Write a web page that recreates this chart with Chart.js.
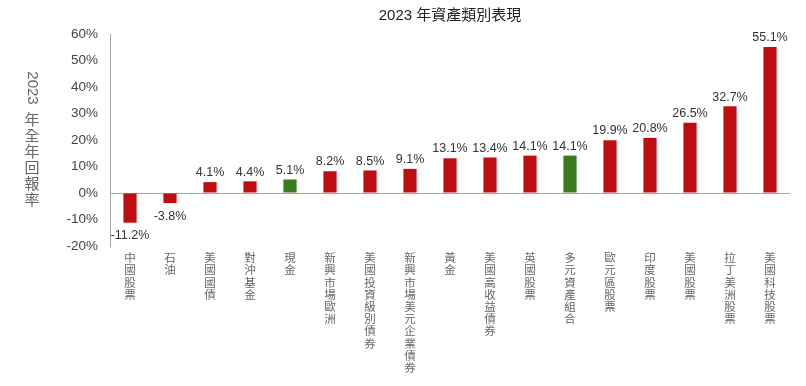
<!DOCTYPE html>
<html>
<head>
<meta charset="utf-8">
<script src="https://cdn.jsdelivr.net/npm/chart.js@4.4.0/dist/chart.umd.min.js"></script>
<style>
  html, body { margin: 0; padding: 0; background: #fff; }
  #wrap { width: 806px; height: 386px; }
</style>
</head>
<body>
<div id="wrap"><canvas id="canvas" width="806" height="386"></canvas></div>
<script>
// data
const categories = ['中國股票', '石油', '美國國債', '對沖基金', '現金', '新興市場歐洲', '美國投資級別債券',
  '新興市場美元企業債券', '黃金', '美國高收益債券', '英國股票', '多元資產組合', '歐元區股票',
  '印度股票', '美國股票', '拉丁美洲股票', '美國科技股票'];
const returns2023 = [-11.2, -3.8, 4.1, 4.4, 5.1, 8.2, 8.5, 9.1, 13.1, 13.4, 14.1, 14.1, 19.9, 20.8, 26.5, 32.7, 55.1];
const greenCats = ['現金', '多元資產組合'];
const yTicks = [-20, -10, 0, 10, 20, 30, 40, 50, 60];

const chartTitle = '2023 年資產類別表現';
const yTitleNum = '2023';
const yTitleText = '年全年回報率';

const RED = '#c00d12';
const GREEN = '#3a7b1f';
const FONT = "'Liberation Sans', 'Noto Sans CJK TC', sans-serif";

// bar value labels
const valueLabels = {
  id: 'valueLabels',
  afterDatasetsDraw(chart) {
    const ctx = chart.ctx;
    const meta = chart.getDatasetMeta(0);
    ctx.save();
    ctx.font = '12.5px ' + FONT;
    ctx.fillStyle = '#333';
    ctx.textAlign = 'center';
    meta.data.forEach((bar, i) => {
      const v = returns2023[i];
      const txt = v.toFixed(1) + '%';
      if (v >= 0) {
        ctx.textBaseline = 'bottom';
        ctx.fillText(txt, bar.x, bar.y - 3);
      } else {
        ctx.textBaseline = 'top';
        ctx.fillText(txt, bar.x, bar.y + 7);
      }
    });
    ctx.restore();
  }
};

// title centred on the plot, and vertical y-axis title
const titles = {
  id: 'titles',
  afterDraw(chart) {
    const ctx = chart.ctx;
    const area = chart.chartArea;
    ctx.save();
    ctx.fillStyle = '#222';
    ctx.font = '15px ' + FONT;
    ctx.textAlign = 'center';
    ctx.textBaseline = 'middle';
    ctx.fillText(chartTitle, (area.left + area.right) / 2, 16);

    ctx.fillStyle = '#666';
    ctx.font = '15px ' + FONT;
    const x = area.left - 78;
    const numW = ctx.measureText(yTitleNum).width;
    const step = 16;
    const total = numW + 8 + yTitleText.length * step;
    let y = (area.top + area.bottom) / 2 - total / 2;
    ctx.save();
    ctx.translate(x, y);
    ctx.rotate(Math.PI / 2);
    ctx.textAlign = 'left';
    ctx.fillText(yTitleNum, 0, 0);
    ctx.restore();
    y += numW + 8;
    ctx.textAlign = 'center';
    for (const ch of yTitleText) {
      ctx.fillText(ch, x, y + step / 2);
      y += step;
    }
    ctx.restore();
  }
};

new Chart(document.getElementById('canvas').getContext('2d'), {
  type: 'bar',
  data: {
    labels: categories.map(c => Array.from(c)),
    datasets: [{
      data: returns2023,
      backgroundColor: categories.map(c => greenCats.includes(c) ? GREEN : RED),
      barPercentage: 0.33,
      categoryPercentage: 1
    }]
  },
  options: {
    responsive: false,
    animation: false,
    layout: { padding: { top: 34, right: 16, left: 0, bottom: 0 } },
    plugins: {
      legend: { display: false },
      tooltip: { enabled: false }
    },
    scales: {
      x: {
        grid: { display: false, drawTicks: false },
        border: { display: false },
        ticks: {
          maxRotation: 0,
          minRotation: 0,
          autoSkip: false,
          padding: 7,
          color: '#666',
          font: { family: FONT, size: 11.5, lineHeight: '12.2px' }
        },
        afterFit(scale) { scale.height = 140; }
      },
      y: {
        min: -20,
        max: 60,
        afterBuildTicks(scale) { scale.ticks = yTicks.map(v => ({ value: v })); },
        grid: {
          drawTicks: false,
          color: ctx => ctx.tick && ctx.tick.value === 0 ? '#a6a6a6' : 'rgba(0,0,0,0)',
          lineWidth: 1
        },
        border: { display: true, color: '#a6a6a6' },
        ticks: {
          padding: 12,
          color: '#444',
          font: { family: FONT, size: 13.5 },
          callback: v => v + '%'
        },
        afterFit(scale) { scale.width = 110; }
      }
    }
  },
  plugins: [valueLabels, titles]
});
</script>
</body>
</html>
